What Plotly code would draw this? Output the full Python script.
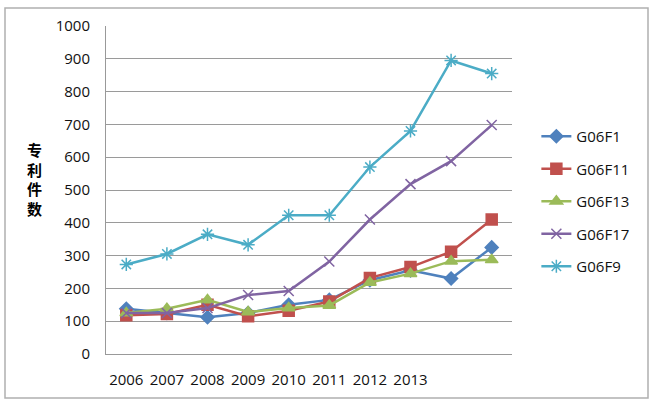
import plotly.graph_objects as go

years = ["2006", "2007", "2008", "2009", "2010", "2011", "2012", "2013", "2014", "2015"]
tick_labels = ["2006", "2007", "2008", "2009", "2010", "2011", "2012", "2013", "", ""]

series_names = ["G06F1", "G06F11", "G06F13", "G06F17", "G06F9"]
g06f1 = [138, 125, 112, 125, 150, 165, 225, 255, 230, 325]
g06f11 = [118, 122, 150, 115, 132, 160, 232, 265, 312, 410]
g06f13 = [125, 138, 165, 128, 140, 148, 218, 245, 283, 287]
g06f17 = [125, 125, 140, 180, 192, 282, 410, 518, 588, 698]
g06f9 = [273, 305, 365, 333, 423, 423, 570, 680, 895, 855]

y_title_chars = ["专", "利", "件", "数"]

colors = ["#4F81BD", "#C0504D", "#9BBB59", "#8064A2", "#4BACC6"]
symbols = ["diamond", "square", "triangle-up", "x-thin", "asterisk"]
sizes = [10, 11, 11, 10, 11]

fig = go.Figure()
for name, vals, col, sym, sz in zip(series_names, [g06f1, g06f11, g06f13, g06f17, g06f9], colors, symbols, sizes):
    fig.add_trace(go.Scatter(
        x=years, y=vals, name=name, legendgroup=name,
        mode="lines+markers",
        line=dict(color=col, width=2.5),
        marker=dict(symbol=sym, size=sz, color=col, line=dict(color=col, width=1.5)),
    ))

# plot area in screen px: x 106..512, y 26..354
def px(x):
    return (x - 106) / 406

def py(y):
    return (354 - y) / 328

fig.update_layout(
    width=659, height=404,
    margin=dict(l=106, r=147, t=26, b=50),
    paper_bgcolor="white", plot_bgcolor="white",
    font=dict(family="Open Sans, Liberation Sans, sans-serif", size=15, color="#111111"),
    showlegend=True,
    legend=dict(x=1.06, y=py(201.5), xanchor="left", yanchor="middle",
                tracegroupgap=10, bgcolor="rgba(0,0,0,0)",
                font=dict(size=15, color="#111111")),
    xaxis=dict(type="category", tickmode="array", tickvals=years, ticktext=tick_labels,
               showgrid=False, showline=True, linecolor="#999999", linewidth=1,
               ticks="", range=[-0.5, 9.5], ticklabelstandoff=12),
    yaxis=dict(range=[0, 1000], dtick=100, showgrid=True, gridcolor="#9a9a9a", gridwidth=1,
               showline=True, linecolor="#999999", ticks="", ticklabelstandoff=12,
               zeroline=False),
    shapes=[dict(type="rect", xref="paper", yref="paper",
                 x0=px(5), x1=px(648), y0=py(398), y1=py(8),
                 line=dict(color="#b0b0b0", width=1.5))],
    annotations=[dict(text="<b>" + "<br>".join(y_title_chars) + "</b>",
                      xref="paper", yref="paper", x=px(34), y=py(179), showarrow=False,
                      font=dict(family="Noto Sans CJK SC", size=15, color="#000000"),
                      xanchor="center", yanchor="middle")],
)
fig.write_html("out.html", config={"displayModeBar": False},
               post_script="document.body.style.margin='0';document.body.style.padding='0';")
